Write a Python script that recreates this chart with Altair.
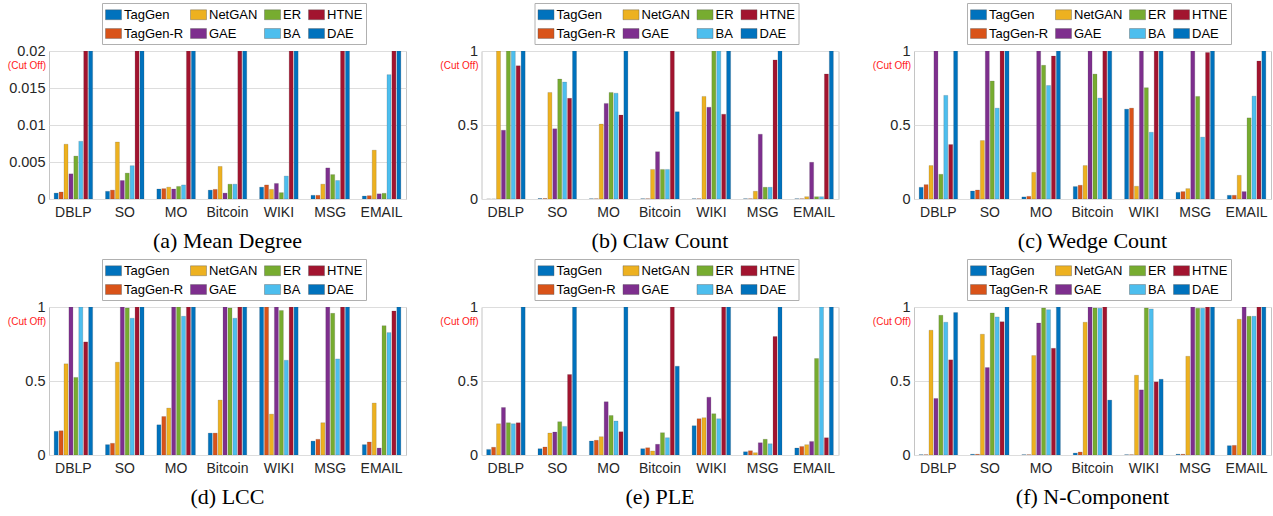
import altair as alt
import pandas as pd

datasets = ["DBLP", "SO", "MO", "Bitcoin", "WIKI", "MSG", "EMAIL"]
methods = ["TagGen", "TagGen-R", "NetGAN", "GAE", "ER", "BA", "HTNE", "DAE"]
method_colors = ["#0072BD", "#D95319", "#EDB120", "#7E2F8E",
                 "#77AC30", "#4DBEEE", "#A2142F", "#0072BD"]

# rows = datasets, columns = methods (values at the cap are cut off)
mean_degree = [
    [0.0008, 0.00095, 0.0074, 0.0034, 0.0058, 0.0078, 0.02, 0.02],
    [0.00104, 0.0012, 0.0077, 0.0025, 0.0035, 0.0045, 0.02, 0.02],
    [0.00135, 0.0014, 0.0016, 0.00135, 0.0017, 0.0019, 0.02, 0.02],
    [0.0012, 0.0013, 0.0044, 0.0008, 0.002, 0.002, 0.02, 0.02],
    [0.0016, 0.0019, 0.0013, 0.0021, 0.00086, 0.0031, 0.02, 0.02],
    [0.0005, 0.0005, 0.002, 0.0042, 0.0033, 0.0025, 0.02, 0.02],
    [0.0004, 0.00045, 0.0066, 0.0007, 0.00077, 0.0168, 0.02, 0.02],
]
claw_count = [
    [0.0, 0.0, 1, 0.465, 1, 1, 0.90, 1],
    [0.003, 0.003, 0.72, 0.474, 0.81, 0.79, 0.68, 1],
    [0.002, 0.002, 0.506, 0.646, 0.72, 0.715, 0.567, 1],
    [0.002, 0.002, 0.2, 0.32, 0.2, 0.2, 1, 0.59],
    [0.002, 0.002, 0.693, 0.62, 1, 1, 0.573, 1],
    [0.002, 0.002, 0.052, 0.438, 0.079, 0.079, 0.94, 1],
    [0.002, 0.002, 0.016, 0.248, 0.016, 0.016, 0.845, 1],
]
wedge_count = [
    [0.079, 0.097, 0.226, 1, 0.167, 0.70, 0.368, 1],
    [0.054, 0.061, 0.395, 1, 0.797, 0.614, 1, 1],
    [0.014, 0.018, 0.18, 1, 0.903, 0.767, 0.966, 1],
    [0.084, 0.093, 0.226, 1, 0.844, 0.682, 1, 1],
    [0.607, 0.614, 0.086, 1, 0.752, 0.451, 1, 1],
    [0.045, 0.05, 0.07, 1, 0.693, 0.418, 0.99, 1],
    [0.025, 0.025, 0.16, 0.05, 0.548, 0.695, 0.932, 1],
]
lcc = [
    [0.16, 0.164, 0.616, 1, 0.524, 1, 0.764, 1],
    [0.07, 0.079, 0.627, 1, 0.993, 0.924, 1, 1],
    [0.204, 0.26, 0.317, 1, 1, 0.937, 1, 1],
    [0.148, 0.148, 0.371, 1, 0.993, 0.924, 1, 1],
    [1, 1, 0.276, 1, 0.977, 0.64, 1, 1],
    [0.094, 0.106, 0.218, 1, 0.957, 0.649, 1, 1],
    [0.07, 0.088, 0.351, 0.047, 0.874, 0.827, 0.973, 1],
]
ple = [
    [0.038, 0.052, 0.211, 0.321, 0.218, 0.211, 0.218, 1],
    [0.043, 0.054, 0.148, 0.155, 0.225, 0.193, 0.544, 1],
    [0.094, 0.099, 0.124, 0.36, 0.267, 0.229, 0.157, 1],
    [0.043, 0.049, 0.027, 0.072, 0.151, 0.117, 1, 0.6],
    [0.198, 0.245, 0.252, 0.391, 0.279, 0.245, 1, 1],
    [0.022, 0.029, 0.016, 0.083, 0.106, 0.076, 0.8, 1],
    [0.047, 0.058, 0.07, 0.092, 0.652, 1, 0.117, 1],
]
n_component = [
    [0.002, 0.002, 0.843, 0.382, 0.944, 0.897, 0.643, 0.962],
    [0.005, 0.005, 0.816, 0.591, 0.96, 0.933, 0.901, 1],
    [0.002, 0.002, 0.672, 0.892, 0.993, 0.982, 0.721, 1],
    [0.013, 0.02, 0.897, 1, 0.993, 0.991, 1, 0.371],
    [0.002, 0.002, 0.539, 0.44, 0.993, 0.987, 0.494, 0.512],
    [0.005, 0.005, 0.667, 1, 0.991, 0.991, 1, 1],
    [0.063, 0.065, 0.917, 1, 0.937, 0.937, 1, 1],
]

ticks_md = [0, 0.005, 0.01, 0.015, 0.02]
ticks_unit = [0, 0.5, 1]

RECT = "M-1,-0.62H1V0.62H-1Z"


def panel(values, ymax, ticks, title):
    rows = []
    for d, vals in zip(datasets, values):
        for m, v in zip(methods, vals):
            rows.append({"dataset": d, "method": m, "value": v})
    df = pd.DataFrame(rows)
    bars = alt.Chart(df).mark_bar(
        stroke="#404040", strokeWidth=0.3, strokeOpacity=0.6, clip=True
    ).encode(
        x=alt.X("dataset:N", sort=datasets,
                scale=alt.Scale(paddingInner=0.25, paddingOuter=0.1),
                axis=alt.Axis(title=None, labelAngle=0, ticks=False,
                              domain=False, labelPadding=6)),
        xOffset=alt.XOffset("method:N", sort=methods,
                            scale=alt.Scale(paddingInner=0.18)),
        y=alt.Y("value:Q",
                scale=alt.Scale(domain=[0, ymax], nice=False, zero=True),
                axis=alt.Axis(title=None, values=ticks, format="~g",
                              ticks=False, domain=False, labelPadding=4,
                              labelOverlap=False, labelFontSize=14.5,
                              minExtent=45, maxExtent=45)),
        color=alt.Color("method:N",
                        scale=alt.Scale(domain=methods, range=method_colors),
                        legend=alt.Legend(
                            title=None, orient="none", legendX=53, legendY=-48,
                            columns=4, direction="vertical",
                            columnPadding=5, rowPadding=3,
                            padding=3, strokeColor="#b0b0b0", fillColor="white",
                            symbolType=RECT, symbolSize=256, symbolOffset=0,
                            symbolStrokeColor="#555555", symbolStrokeWidth=0.4,
                            labelOffset=2, labelFontSize=13,
                            labelFont="Liberation Sans", labelColor="#000000")),
    )
    note = alt.Chart(pd.DataFrame({"t": ["(Cut Off)"]})).mark_text(
        color="#ff2020", fontSize=10, align="right", baseline="middle",
        font="Liberation Sans"
    ).encode(x=alt.value(-3), y=alt.value(15), text="t:N")
    return alt.layer(bars, note).properties(
        width=357, height=148,
        title=alt.TitleParams(title, orient="bottom", font="Liberation Serif",
                              fontSize=22, fontWeight="normal", color="#000000",
                              offset=12),
    )


pa = panel(mean_degree, 0.02, ticks_md, "(a) Mean Degree")
pb = panel(claw_count, 1, ticks_unit, "(b) Claw Count")
pc = panel(wedge_count, 1, ticks_unit, "(c) Wedge Count")
pd_ = panel(lcc, 1, ticks_unit, "(d) LCC")
pe = panel(ple, 1, ticks_unit, "(e) PLE")
pf = panel(n_component, 1, ticks_unit, "(f) N-Component")

res = dict(color="independent", x="independent", y="independent")
row1 = alt.hconcat(pa, pb, pc, spacing=28.5).resolve_scale(**res)
row2 = alt.hconcat(pd_, pe, pf, spacing=28.5).resolve_scale(**res)

chart = alt.vconcat(row1, row2, spacing=5).resolve_scale(**res).properties(
    padding={"left": 3, "top": 2, "right": 0, "bottom": 0},
    background="white",
).configure_view(stroke="#c4c4c4", strokeWidth=1).configure_axis(
    labelFont="Liberation Sans", labelFontSize=14, labelColor="#262626"
)

chart.save("out.html", embed_options={"renderer": "svg", "actions": False})
